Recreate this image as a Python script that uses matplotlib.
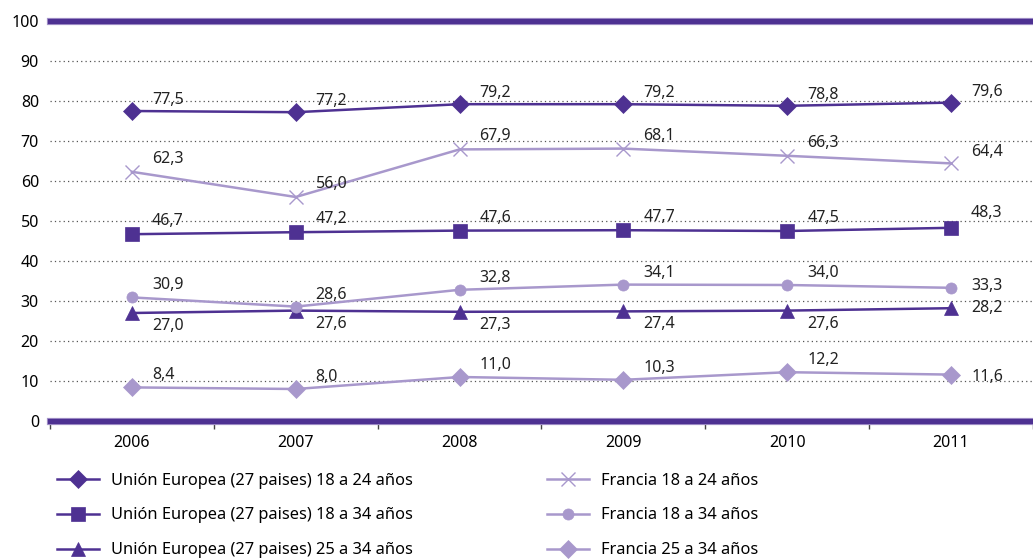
import matplotlib.pyplot as plt

plt.rcParams['font.family'] = ['Noto Sans', 'DejaVu Sans']

years = ['2006', '2007', '2008', '2009', '2010', '2011']
eu_18_24 = [77.5, 77.2, 79.2, 79.2, 78.8, 79.6]
eu_18_34 = [46.7, 47.2, 47.6, 47.7, 47.5, 48.3]
eu_25_34 = [27.0, 27.6, 27.3, 27.4, 27.6, 28.2]
fr_18_24 = [62.3, 56.0, 67.9, 68.1, 66.3, 64.4]
fr_18_34 = [30.9, 28.6, 32.8, 34.1, 34.0, 33.3]
fr_25_34 = [8.4, 8.0, 11.0, 10.3, 12.2, 11.6]

dark = '#4e3192'
light = '#a898cc'

fig = plt.figure(figsize=(10.33, 5.6), dpi=100)
ax = fig.add_axes([50 / 1033, 139 / 560, 983 / 1033, 400 / 560])

x = list(range(len(years)))

# values, colour, marker, size, legend text, label offset (px), offset at last point
series = [
    (eu_18_24, dark, 'D', 9, 'Unión Europea (27 paises) 18 a 24 años', 11, 11),
    (eu_18_34, dark, 's', 10, 'Unión Europea (27 paises) 18 a 34 años', 13, 15),
    (eu_25_34, dark, '^', 10, 'Unión Europea (27 paises) 25 a 34 años', -13, 0),
    (fr_18_24, light, 'x', 10, 'Francia 18 a 24 años', 13, 11),
    (fr_18_34, light, 'o', 8, 'Francia 18 a 34 años', 12, 2),
    (fr_25_34, light, 'D', 9, 'Francia 25 a 34 años', 12, -2),
]

handles = []
for vals, col, mk, ms, lab, dy, dy_last in series:
    ln, = ax.plot(x, vals, color=col, lw=1.8, marker=mk, markersize=ms,
                  markeredgewidth=1 if mk == 'x' else 0.5, markeredgecolor=col,
                  label=lab, zorder=3)
    handles.append(ln)
    for i, v in enumerate(vals):
        off = dy_last if i == len(vals) - 1 else dy
        ax.annotate(f'{v:.1f}'.replace('.', ','), (i, v), xytext=(20, off),
                    textcoords='offset pixels', fontsize=11.5, color='#222222',
                    ha='left', va='center', zorder=4)

ax.set_xlim(-0.5, 5.46)
ax.set_ylim(0, 100)
ax.set_yticks(range(0, 101, 10))
ax.set_xticks(x)
ax.set_xticklabels(years)
ax.set_xticks([i - 0.5 for i in range(7)], minor=True)
ax.tick_params(axis='x', which='major', length=0, pad=10, labelsize=11.5)
ax.tick_params(axis='x', which='minor', length=6, width=1, color='#444444', direction='out')
ax.tick_params(axis='y', length=0, pad=8, labelsize=11.5)
for s in ax.spines.values():
    s.set_visible(False)

for yv in range(10, 100, 10):
    ax.axhline(yv, color='#555555', lw=0.9, ls=(0, (1, 2.5)), zorder=1)
for yv in (0, 100):
    ax.axhline(yv, color=light, lw=5.2, zorder=2, clip_on=False)
    ax.axhline(yv, color=dark, lw=3.8, zorder=2, clip_on=False)

for hs, xl in ((handles[:3], 50), (handles[3:], 540)):
    fig.legend(handles=hs, loc='upper left', bbox_to_anchor=(xl / 1033, 1 - 466 / 560),
               frameon=False, fontsize=11.8, handlelength=2.6, labelspacing=1.15,
               handletextpad=0.7, borderaxespad=0)

fig.savefig('out.png', dpi=100)
